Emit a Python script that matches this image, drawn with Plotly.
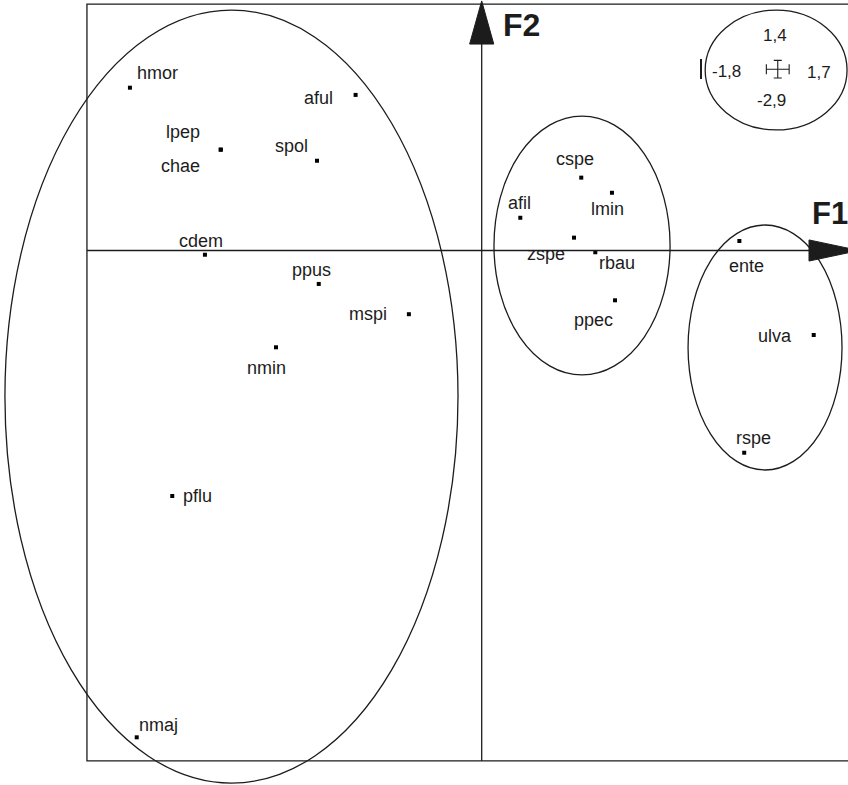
import plotly.graph_objects as go

# taxa scores on the two factorial axes (F1, F2)
taxa = ["hmor", "aful", "lpep", "chae", "spol", "cdem", "ppus", "mspi", "nmin", "pflu", "nmaj",
        "cspe", "lmin", "afil", "zspe", "rbau", "ppec", "ente", "ulva", "rspe"]
f1 = [-1.604, -0.575, -1.190, -1.190, -0.751, -1.262, -0.743, -0.332, -0.938, -1.411, -1.573,
      0.454, 0.594, 0.176, 0.421, 0.518, 0.608, 1.175, 1.514, 1.197]
f2 = [0.925, 0.884, 0.573, 0.573, 0.510, -0.024, -0.190, -0.362, -0.550, -1.395, -2.766,
      0.414, 0.328, 0.186, 0.073, -0.010, -0.283, 0.054, -0.480, -1.149]

# axis extents (as given in the inset)
f1_min, f1_max = -1.8, 1.7
f2_min, f2_max = -2.9, 1.4
inset_labels = ["1,4", "-1,8", "1,7", "-2,9"]

# label placement: anchor, x shift px, y shift px (screen down)
label_pos = {
    "hmor": ("left", 5, -15), "aful": ("right", -21, 3), "lpep": ("right", -19, -18),
    "chae": ("right", -19, 16), "spol": ("right", -7, -15), "cdem": ("center", -4, -14),
    "ppus": ("center", -7, -14), "mspi": ("right", -20, 0), "nmin": ("center", -9, 21),
    "pflu": ("left", 9, 0), "nmaj": ("left", 0, -12), "cspe": ("center", -6, -19),
    "lmin": ("center", -4, 16), "afil": ("center", -1, -15), "zspe": ("center", -28, 16),
    "rbau": ("center", 22, 11), "ppec": ("center", -22, 20), "ente": ("center", 7, 25),
    "ulva": ("right", -20, 1), "rspe": ("center", 9, -15),
}

INK = "#1c1c1c"
LW = 1.3
FONT = "Liberation Sans, Arial, Helvetica, sans-serif"

fig = go.Figure()

fig.add_trace(go.Scatter(
    x=f1, y=f2, mode="markers",
    marker=dict(symbol="square", size=4, color="black"),
    hoverinfo="text", text=taxa, showlegend=False,
))

# scale cross in the inset
fig.add_trace(go.Scatter(
    x=[1.350], y=[1.030], mode="markers",
    marker=dict(size=1, color="rgba(0,0,0,0)"),
    error_x=dict(type="constant", value=0.052, width=5, thickness=1.1, color=INK),
    error_y=dict(type="constant", value=0.050, width=4, thickness=1.1, color=INK),
    showlegend=False, hoverinfo="skip",
))

for name, x, y in zip(taxa, f1, f2):
    anchor, dx, dy = label_pos[name]
    fig.add_annotation(x=x, y=y, text=name, showarrow=False, xanchor=anchor, yanchor="middle",
                       xshift=dx, yshift=-dy, font=dict(family=FONT, size=18, color=INK))

shapes = []
line = dict(color=INK, width=LW)
# frame
shapes.append(dict(type="rect", x0=f1_min, x1=f1_max, y0=f2_min, y1=f2_max, line=line))
# F1 axis and head
shapes.append(dict(type="line", x0=f1_min, x1=1.50, y0=0, y1=0, line=line))
shapes.append(dict(type="path", path="M 1.4925 0.06 L 1.72 0 L 1.4925 -0.06 Z",
                   fillcolor=INK, line=dict(color=INK, width=1)))
# F2 axis and head
shapes.append(dict(type="line", x0=0, x1=0, y0=f2_min, y1=1.18, line=line))
shapes.append(dict(type="path", path="M -0.055 1.173 L 0 1.418 L 0.055 1.173 Z",
                   fillcolor=INK, line=dict(color=INK, width=1)))
# group ellipses
for x0, x1, y0, y1 in [(-2.174, -0.108, -3.026, 1.366),
                       (0.056, 0.859, -0.707, 0.764),
                       (0.941, 1.643, -1.247, 0.145),
                       (1.019, 1.666, 0.685, 1.366)]:
    shapes.append(dict(type="circle", x0=x0, x1=x1, y0=y0, y1=y1, line=line))
# small tick mark on inset
shapes.append(dict(type="line", x0=1.0, x1=1.0, y0=0.974, y1=1.088, line=dict(color=INK, width=2)))
fig.update_layout(shapes=shapes)

# inset values
for txt, x, y in zip(inset_labels, [1.338, 1.117, 1.537, 1.320], [1.219, 1.016, 1.014, 0.855]):
    fig.add_annotation(x=x, y=y, text=txt, showarrow=False, xanchor="center", yanchor="middle",
                       font=dict(family=FONT, size=17, color=INK))

# axis names
fig.add_annotation(x=1.497, y=0.213, text="<b>F1</b>", showarrow=False, xanchor="left",
                   yanchor="middle", font=dict(family=FONT, size=31, color=INK))
fig.add_annotation(x=0.090, y=1.281, text="<b>F2</b>", showarrow=False, xanchor="left",
                   yanchor="middle", font=dict(family=FONT, size=32, color=INK))

fig.update_xaxes(range=[-2.1965, 1.6703], visible=False)
fig.update_yaxes(range=[-3.0369, 1.4233], visible=False)
fig.update_layout(width=848, height=785, margin=dict(l=0, r=0, t=0, b=0),
                  plot_bgcolor="white", paper_bgcolor="white")

# page body has a default 8px margin; drop it so the chart sits at the window corner
fig.write_html("out.html", config={"displayModeBar": False},
               post_script="document.body.style.margin='0';document.body.style.overflow='hidden';")
